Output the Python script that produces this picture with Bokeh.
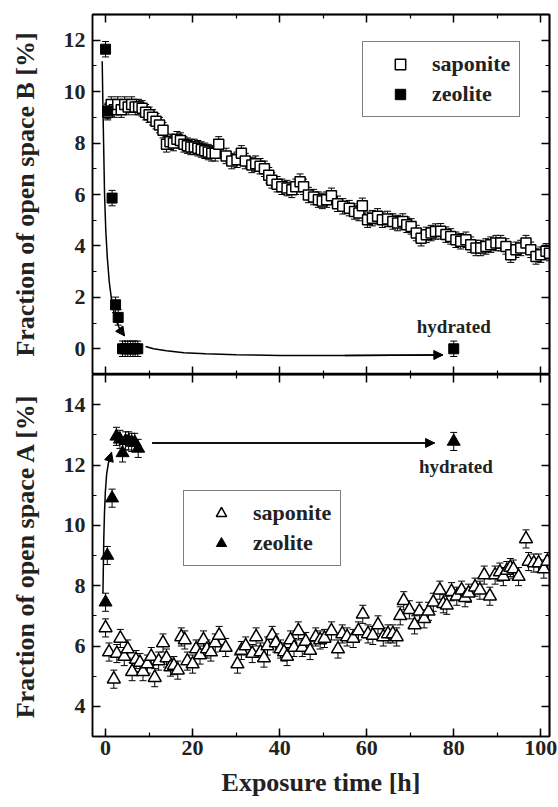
from bokeh.plotting import figure
from bokeh.models import (ColumnDataSource, Whisker, TeeHead, Arrow, NormalHead, LinearAxis,
                          SingleIntervalTicker, FixedTicker, Range1d, Legend, LegendItem)
from bokeh.layouts import column
from bokeh.embed import file_html
from bokeh.resources import INLINE
from bokeh.core.properties import value

# ---------------- data ----------------
# panel B (top)
sap_b_x = [0.5, 1.3, 2.0, 2.8, 3.6, 4.4, 5.2, 6.0, 6.8, 7.6, 8.4, 9.2, 10.0, 10.8, 11.6, 12.4, 13.2,
           14.0, 14.8, 15.6, 16.4, 17.2, 18.0, 18.8, 19.6, 20.4, 21.2, 22.0, 22.8, 23.6, 24.4, 25.2,
           26.0, 27.7, 29.0, 30.2, 31.2, 32.1, 33.6, 34.5, 35.5, 36.5, 37.5, 38.2, 39.4, 40.5, 41.7,
           42.8, 43.7, 44.7, 45.5, 46.6, 47.8, 48.9, 49.8, 50.8, 51.9, 53.3, 54.5, 56.0, 57.2, 58.2,
           59.0, 60.2, 61.3, 62.5, 63.6, 64.8, 66.0, 67.1, 68.3, 69.2, 70.2, 71.4, 72.5, 73.7, 74.8,
           75.8, 77.0, 78.2, 79.3, 80.5, 81.6, 82.8, 83.9, 85.1, 86.2, 87.4, 88.5, 89.7, 90.8, 92.0,
           93.1, 94.3, 95.4, 96.6, 97.7, 98.9, 100.0, 101.2, 102.0]
sap_b_y = [9.2, 9.5, 9.3, 9.5, 9.3, 9.5, 9.4, 9.5, 9.4, 9.4, 9.35, 9.2, 9.1, 9.0, 8.85, 8.7, 8.5,
           7.95, 8.05, 8.0, 8.15, 8.1, 7.95, 7.9, 7.85, 7.85, 7.8, 7.75, 7.7, 7.65, 7.6, 7.6,
           7.95, 7.5, 7.3, 7.35, 7.6, 7.3, 7.15, 7.2, 7.1, 7.0, 6.75, 6.55, 6.4, 6.3, 6.25,
           6.18, 6.3, 6.5, 6.3, 5.98, 5.9, 5.8, 5.75, 5.8, 5.95, 5.64, 5.54, 5.47, 5.34, 5.28,
           5.56, 5.02, 5.08, 5.15, 5.02, 5.05, 4.95, 4.89, 4.95, 4.82, 4.76, 4.5, 4.3, 4.43, 4.5,
           4.56, 4.57, 4.44, 4.37, 4.24, 4.18, 4.24, 4.05, 3.92, 3.92, 3.98, 4.05, 4.11, 4.11, 3.98,
           3.66, 3.85, 3.92, 4.11, 3.85, 3.59, 3.66, 3.79, 3.72]
sap_b_err = 0.3

zeo_b_x = [0.0, 0.5, 1.5, 2.3, 2.9, 3.9, 4.5, 5.1, 5.7, 6.3, 6.8, 7.4, 80.0]
zeo_b_y = [11.65, 9.25, 5.86, 1.71, 1.22, 0.0, 0.0, 0.0, 0.0, 0.0, 0.0, 0.0, 0.0]
zeo_b_err = 0.3

fit_b1_x = [-0.77, -0.62, -0.45, -0.23, 0.05, 0.4, 0.85, 1.5, 2.3, 3.3, 4.37]
fit_b1_y = [11.18, 9.6, 8.0, 6.0, 4.6, 3.55, 2.6, 1.75, 1.15, 0.75, 0.5]
fit_b2_x = [9.2, 11.0, 14.0, 18.0, 23.0, 30.0, 40.0, 55.0, 77.5]
fit_b2_y = [0.09, 0.0, -0.08, -0.15, -0.19, -0.23, -0.26, -0.26, -0.24]

# panel A (bottom)
sap_a_x = [0.0, 0.8, 1.9, 2.6, 3.4, 4.3, 5.1, 6.1, 7.0, 7.9, 8.6, 9.6, 10.5, 11.3, 12.2, 13.2,
           14.0, 14.9, 15.7, 16.6, 17.4, 18.2, 18.8, 20.0, 20.8, 21.7, 22.5, 23.3, 24.2, 25.2,
           26.1, 27.6, 30.3, 31.2, 32.2, 33.7, 34.6, 35.6, 36.4, 37.2, 38.3, 39.1, 40.2, 41.0,
           41.7, 42.5, 43.3, 44.3, 45.2, 46.0, 47.0, 48.3, 49.3, 50.3, 51.9, 53.4, 54.4, 55.5,
           56.9, 58.1, 59.1, 60.3, 61.4, 62.6, 63.8, 64.9, 66.0, 66.9, 67.7, 68.5, 69.8, 71.0,
           72.1, 73.2, 74.2, 75.3, 76.8, 77.6, 78.4, 79.5, 80.7, 81.8, 82.6, 83.4, 84.9, 86.0,
           87.0, 88.3, 89.5, 90.6, 91.4, 92.2, 93.0, 93.7, 94.9, 96.6, 97.2, 98.4, 99.5, 100.7,
           101.5]
sap_a_y = [6.6, 5.8, 4.9, 5.75, 6.25, 5.65, 5.9, 5.15, 5.55, 5.45, 5.15, 5.4, 5.65, 4.95, 5.5, 6.1,
           5.6, 5.3, 5.35, 5.2, 6.3, 6.2, 5.5, 5.4, 5.9, 5.7, 6.2, 5.9, 5.8, 6.1,
           6.35, 5.95, 5.4, 5.85, 6.0, 5.75, 6.3, 5.8, 5.6, 6.0, 6.35, 6.1, 5.9, 5.8,
           5.65, 6.2, 5.95, 6.5, 5.95, 6.15, 5.85, 6.3, 6.2, 6.25, 6.5, 5.9, 6.4, 6.3,
           6.25, 6.5, 7.05, 6.4, 6.35, 6.7, 6.3, 6.4, 6.4, 6.3, 7.0, 7.5, 7.2, 6.7,
           7.15, 6.9, 7.15, 7.45, 7.85, 7.4, 7.35, 7.8, 7.65, 7.85, 7.6, 7.75, 7.95, 7.85,
           8.35, 7.65, 8.35, 8.45, 8.3, 8.5, 8.6, 8.55, 8.3, 9.55, 8.8, 8.75, 8.75, 8.55,
           8.8]
sap_a_err = 0.3

zeo_a_x = [0.0, 0.4, 1.5, 2.5, 3.3, 3.9, 4.6, 5.3, 6.0, 6.7, 7.5, 80.0]
zeo_a_y = [7.45, 9.0, 10.9, 12.95, 12.85, 12.4, 12.8, 12.8, 12.75, 12.75, 12.55, 12.78]
zeo_a_err = 0.3

fit_a1_x = [-0.6, -0.5, -0.4, -0.25, -0.05, 0.25, 0.7, 1.38]
fit_a1_y = [7.76, 8.7, 9.6, 10.4, 11.1, 11.7, 12.1, 12.42]
fit_a2_x = [10.7, 75.6]
fit_a2_y = [12.73, 12.73]

hyd_b_x, hyd_b_y = [80.0], [0.86]
hyd_a_x, hyd_a_y = [80.5], [11.94]
hyd_text = ["hydrated"]

# tick positions for the mirrored (label-free) axes
x_major = [0, 20, 40, 60, 80, 100]
x_minor = [10, 30, 50, 70, 90]
yb_major = [0, 2, 4, 6, 8, 10, 12]
yb_minor = [-1, 1, 3, 5, 7, 9, 11, 13]
ya_major = [4, 6, 8, 10, 12, 14]
ya_minor = [3, 5, 7, 9, 11, 13, 15]

FONT = "Liberation Serif"
FRAME_W = 457


def add_bare_axes(p, place, major, minor):
    # two label-free axes: one carries the long ticks, one the short ones
    for ticks, length in ((major, 8), (minor, 4)):
        ax = LinearAxis(ticker=FixedTicker(ticks=[], minor_ticks=ticks),
                        major_tick_in=0, major_tick_out=0, major_label_standoff=0,
                        minor_tick_in=length, minor_tick_out=0,
                        axis_line_width=1.5, minor_tick_line_width=1.5 if length == 8 else 1.2)
        p.add_layout(ax, place)


def style_axis(ax):
    ax.major_tick_in = 8
    ax.major_tick_out = 0
    ax.minor_tick_in = 4
    ax.minor_tick_out = 0
    ax.axis_line_width = 1.5
    ax.major_tick_line_width = 1.5
    ax.minor_tick_line_width = 1.2
    ax.major_label_text_font = FONT
    ax.major_label_text_font_style = "bold"
    ax.major_label_text_font_size = "22px"
    ax.major_label_text_color = "#222222"
    ax.axis_label_text_font = FONT
    ax.axis_label_text_font_style = "bold"
    ax.axis_label_text_font_size = "26px"
    ax.axis_label_text_color = "#222222"


def errbars(p, xs, ys, err):
    src = ColumnDataSource(dict(x=xs, lo=[v - err for v in ys], hi=[v + err for v in ys]))
    w = Whisker(source=src, base="x", lower="lo", upper="hi", dimension="height",
                line_color="black", line_width=1, level="underlay",
                upper_head=TeeHead(size=7, line_color="black", line_width=1),
                lower_head=TeeHead(size=7, line_color="black", line_width=1))
    p.add_layout(w)


def make_legend(items, loc):
    return Legend(items=items, location=loc, border_line_color="black", border_line_width=1,
                  background_fill_color="white", background_fill_alpha=1.0,
                  label_text_font=FONT, label_text_font_style="bold", label_text_font_size="22px",
                  label_text_color="#222222",
                  glyph_width=56, glyph_height=26, label_standoff=4, padding=9, spacing=4, margin=0)


# ---------------- top panel (B) ----------------
top = figure(frame_width=FRAME_W, frame_height=360, x_range=Range1d(-3, 102), y_range=Range1d(-1, 13),
             output_backend="svg", toolbar_location=None, x_axis_location=None,
             min_border_left=92, min_border_right=9, min_border_top=14, min_border_bottom=0)
top.outline_line_color = "black"
top.outline_line_width = 1.5
top.grid.visible = False
top.yaxis.ticker = SingleIntervalTicker(interval=2, num_minor_ticks=2)
top.yaxis.axis_label = "Fraction of open space B [%]"
style_axis(top.yaxis[0])
top.yaxis.major_label_standoff = 7
top.yaxis.axis_label_standoff = 21
add_bare_axes(top, "below", x_major, x_minor)
add_bare_axes(top, "above", x_major, x_minor)
add_bare_axes(top, "right", yb_major, yb_minor)

errbars(top, sap_b_x, sap_b_y, sap_b_err)
errbars(top, zeo_b_x, zeo_b_y, zeo_b_err)
r_sb = top.scatter(sap_b_x, sap_b_y, marker="square", size=10, fill_color="white",
                   line_color="black", line_width=1.5)
r_zb = top.scatter(zeo_b_x, zeo_b_y, marker="square", size=10, fill_color="black",
                   line_color="black", line_width=1)
top.line(fit_b1_x, fit_b1_y, line_color="black", line_width=1.5)
top.line(fit_b2_x, fit_b2_y, line_color="black", line_width=1.5)
for fx, fy in ((fit_b1_x, fit_b1_y), (fit_b2_x, fit_b2_y)):
    top.add_layout(Arrow(end=NormalHead(size=9, fill_color="black", line_color="black", line_width=1),
                         x_start=fx[-2], y_start=fy[-2], x_end=fx[-1], y_end=fy[-1],
                         line_color="black", line_width=1.5))
top.text(hyd_b_x, hyd_b_y, text=hyd_text, text_align="center", text_baseline="middle",
         text_font=value(FONT), text_font_style="bold", text_font_size="19px", text_color="#222222")
top.add_layout(make_legend([LegendItem(label="saponite", renderers=[r_sb]),
                            LegendItem(label="zeolite", renderers=[r_zb])], (270, 257)))

# ---------------- bottom panel (A) ----------------
bot = figure(frame_width=FRAME_W, frame_height=362, x_range=top.x_range, y_range=Range1d(3, 15),
             output_backend="svg", toolbar_location=None,
             min_border_left=92, min_border_right=9, min_border_top=0, min_border_bottom=71)
bot.outline_line_color = "black"
bot.outline_line_width = 1.5
bot.grid.visible = False
bot.yaxis.ticker = SingleIntervalTicker(interval=2, num_minor_ticks=2)
bot.xaxis.ticker = SingleIntervalTicker(interval=20, num_minor_ticks=2)
bot.yaxis.axis_label = "Fraction of open space A [%]"
bot.xaxis.axis_label = "Exposure time [h]"
style_axis(bot.yaxis[0])
style_axis(bot.xaxis[0])
bot.yaxis.major_label_standoff = 7
bot.yaxis.axis_label_standoff = 21
bot.xaxis.major_label_standoff = 4
bot.xaxis.axis_label_standoff = 10
add_bare_axes(bot, "above", x_major, x_minor)
add_bare_axes(bot, "right", ya_major, ya_minor)

errbars(bot, sap_a_x, sap_a_y, sap_a_err)
errbars(bot, zeo_a_x, zeo_a_y, zeo_a_err)
r_sa = bot.scatter(sap_a_x, sap_a_y, marker="triangle", size=13, fill_color="white",
                   line_color="black", line_width=1.5)
r_za = bot.scatter(zeo_a_x, zeo_a_y, marker="triangle", size=13, fill_color="black",
                   line_color="black", line_width=1)
bot.line(fit_a1_x, fit_a1_y, line_color="black", line_width=1.5)
bot.line(fit_a2_x, fit_a2_y, line_color="black", line_width=1.5)
for fx, fy in ((fit_a1_x, fit_a1_y), (fit_a2_x, fit_a2_y)):
    bot.add_layout(Arrow(end=NormalHead(size=9, fill_color="black", line_color="black", line_width=1),
                         x_start=fx[-2], y_start=fy[-2], x_end=fx[-1], y_end=fy[-1],
                         line_color="black", line_width=1.5))
bot.text(hyd_a_x, hyd_a_y, text=hyd_text, text_align="center", text_baseline="middle",
         text_font=value(FONT), text_font_style="bold", text_font_size="19px", text_color="#222222")
bot.add_layout(make_legend([LegendItem(label="saponite", renderers=[r_sa]),
                            LegendItem(label="zeolite", renderers=[r_za])], (91, 170)))

p = column(top, bot, spacing=0)
open("out.html", "w").write(file_html(p, INLINE))
